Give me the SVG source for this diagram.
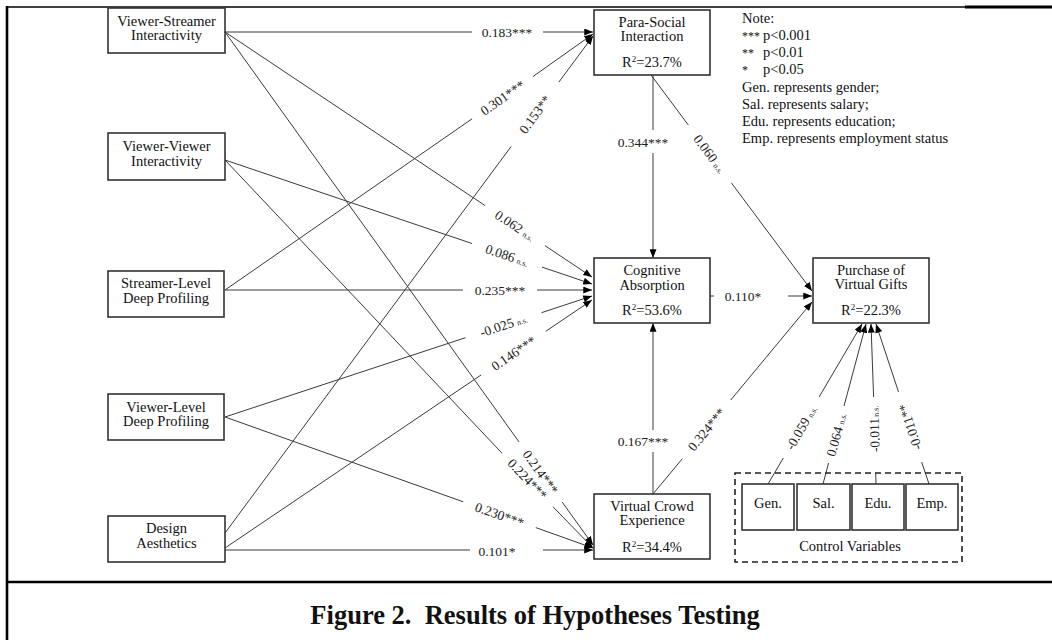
<svg xmlns="http://www.w3.org/2000/svg" width="1052" height="640" viewBox="0 0 1052 640">
<style>
text { font-family: "Liberation Serif", "Times New Roman", serif; fill: #111; }
.n { font-size: 14.5px; text-anchor: middle; }
.l { font-size: 13.5px; text-anchor: middle; fill: #222; }
.ns { font-size: 8px; }
.note { font-size: 14.5px; }
.ast { font-size: 12px; }
.box { fill: #fff; stroke: #333; stroke-width: 1.6; }
.c line { stroke: #3a3a3a; stroke-width: 1; }
.frame { stroke: #000; fill: none; }
</style>
<defs>
<marker id="ah" viewBox="0 0 10 8" refX="10" refY="4" markerWidth="9" markerHeight="7" markerUnits="userSpaceOnUse" orient="auto">
<path d="M0,0 L10,4 L0,8 z" fill="#000"/>
</marker>
</defs>
<rect width="1052" height="640" fill="#fff"/>
<!-- frame -->
<line class="frame" x1="7" y1="7" x2="965" y2="7" stroke-width="1.6"/>
<line class="frame" x1="965" y1="7" x2="1052" y2="7" stroke-width="3"/>
<line class="frame" x1="7" y1="6" x2="7" y2="640" stroke-width="2.6"/>
<line class="frame" x1="7" y1="582" x2="1052" y2="582" stroke-width="2.6"/>

<g id="connectors" class="c">
<!-- A VSI->PSI -->
<line x1="225" y1="32" x2="472" y2="32"/><line x1="543" y1="32" x2="593" y2="32" marker-end="url(#ah)"/>
<text class="l" x="507" y="32" dy="0.35em">0.183***</text>
<!-- B VSI->CA -->
<line x1="225" y1="32" x2="485.1" y2="205.6"/><line x1="544.9" y1="245.6" x2="592" y2="277" marker-end="url(#ah)"/>
<text class="l" transform="translate(515,225.6) rotate(33.7)" dy="0.35em">0.062<tspan class="ns" dx="3">n.s.</tspan></text>
<!-- C VSI->VCE -->
<line x1="225" y1="32" x2="519" y2="441.9"/><line x1="562.2" y1="502.1" x2="593" y2="545" marker-end="url(#ah)"/>
<text class="l" transform="translate(540.6,472) rotate(54.35)" dy="0.35em">0.214***</text>
<!-- D VVI->CA -->
<line x1="225" y1="160" x2="472" y2="243.5"/><line x1="542" y1="267.1" x2="592" y2="284" marker-end="url(#ah)"/>
<text class="l" transform="translate(507,255.3) rotate(18.67)" dy="0.35em">0.086<tspan class="ns" dx="3">n.s.</tspan></text>
<!-- E VVI->VCE -->
<line x1="225" y1="160" x2="502" y2="453.2"/><line x1="553" y1="506.8" x2="593" y2="548" marker-end="url(#ah)"/>
<text class="l" transform="translate(527.5,479) rotate(46.5)" dy="0.35em">0.224***</text>
<!-- F SLDP->PSI -->
<line x1="225" y1="290" x2="472.1" y2="118.8"/><line x1="532.9" y1="76.6" x2="593" y2="34" marker-end="url(#ah)"/>
<text class="l" transform="translate(502.5,97.7) rotate(-34.7)" dy="0.35em">0.301***</text>
<!-- G SLDP->CA -->
<line x1="225" y1="290" x2="463" y2="290"/><line x1="537" y1="290" x2="592" y2="290" marker-end="url(#ah)"/>
<text class="l" x="500" y="290" dy="0.35em">0.235***</text>
<!-- H VLDP->CA -->
<line x1="225" y1="417" x2="465.5" y2="337.7"/><line x1="541.5" y1="312.7" x2="592" y2="296" marker-end="url(#ah)"/>
<text class="l" transform="translate(503.5,325.2) rotate(-18.25)" dy="0.35em">-0.025<tspan class="ns" dx="3">n.s.</tspan></text>
<!-- I VLDP->VCE -->
<line x1="225" y1="417" x2="463.2" y2="501.8"/><line x1="535.8" y1="527.6" x2="593" y2="548" marker-end="url(#ah)"/>
<text class="l" transform="translate(499.5,514.7) rotate(19.6)" dy="0.35em">0.230***</text>
<!-- J DA->PSI -->
<line x1="225" y1="533" x2="511.2" y2="146.4"/><line x1="558.8" y1="82.2" x2="593" y2="36" marker-end="url(#ah)"/>
<text class="l" transform="translate(535,114.3) rotate(-53.5)" dy="0.35em">0.153**</text>
<!-- K DA->CA -->
<line x1="225" y1="548" x2="481.2" y2="374.9"/><line x1="545.8" y1="331.3" x2="592" y2="300" marker-end="url(#ah)"/>
<text class="l" transform="translate(513.5,353.1) rotate(-34.05)" dy="0.35em">0.146***</text>
<!-- L DA->VCE -->
<line x1="225" y1="550" x2="470" y2="550"/><line x1="543" y1="550" x2="593" y2="550" marker-end="url(#ah)"/>
<text class="l" x="497" y="551" dy="0.35em">0.101*</text>
<!-- M PSI->CA -->
<line x1="653" y1="75" x2="653" y2="130"/><line x1="653" y1="153" x2="653" y2="258" marker-end="url(#ah)"/>
<text class="l" x="643" y="142" dy="0.35em">0.344***</text>
<!-- N PSI->PVG -->
<line x1="651" y1="75" x2="688.4" y2="125.1"/><line x1="731.4" y1="182.9" x2="812" y2="291" marker-end="url(#ah)"/>
<text class="l" transform="translate(709.9,154) rotate(53.3)" dy="0.35em">0.060<tspan class="ns" dx="3">n.s.</tspan></text>
<!-- O CA->PVG -->
<line x1="710" y1="296" x2="714" y2="296"/><line x1="788" y1="296" x2="812" y2="296" marker-end="url(#ah)"/>
<text class="l" x="743" y="296" dy="0.35em">0.110*</text>
<!-- P VCE->CA -->
<line x1="653" y1="494" x2="653" y2="452"/><line x1="653" y1="430" x2="653" y2="323" marker-end="url(#ah)"/>
<text class="l" x="643" y="441" dy="0.35em">0.167***</text>
<!-- Q VCE->PVG -->
<line x1="653" y1="494" x2="682.3" y2="458.7"/><line x1="730.7" y1="400.1" x2="812" y2="302" marker-end="url(#ah)"/>
<text class="l" transform="translate(706.5,429.4) rotate(-50.4)" dy="0.35em">0.324***</text>
<!-- Controls -->
<line x1="768" y1="484" x2="783.3" y2="458"/><line x1="819.1" y1="397" x2="862" y2="324" marker-end="url(#ah)"/>
<text class="l" transform="translate(801.2,427.5) rotate(-59.6)" dy="0.35em">-0.059<tspan class="ns" dx="3">n.s.</tspan></text>
<line x1="823" y1="484" x2="828.6" y2="463"/><line x1="844" y1="406" x2="866" y2="324" marker-end="url(#ah)"/>
<text class="l" transform="translate(836.3,434.5) rotate(-75)" dy="0.35em">0.064<tspan class="ns" dx="3">n.s.</tspan></text>
<line x1="876" y1="484" x2="875.7" y2="473"/><line x1="873.6" y1="397" x2="871" y2="324" marker-end="url(#ah)"/>
<text class="l" transform="translate(874.3,429) rotate(-91.8)" dy="0.35em">-0.011<tspan class="ns" dx="1">n.s.</tspan></text>
<line x1="929" y1="484" x2="921.7" y2="462.1"/><line x1="898.5" y1="391.9" x2="876" y2="324" marker-end="url(#ah)"/>
<text class="l" transform="translate(910.1,427) rotate(-108.3)" dy="0.35em">-0.011**</text>
</g>

<g id="node-vsi">
<rect class="box" x="108" y="8" width="117" height="45"/>
<text class="n" x="166.5" y="26">Viewer-Streamer</text>
<text class="n" x="166.5" y="40">Interactivity</text>
</g>
<g id="node-vvi">
<rect class="box" x="108" y="133" width="117" height="47"/>
<text class="n" x="166.5" y="151">Viewer-Viewer</text>
<text class="n" x="166.5" y="166">Interactivity</text>
</g>
<g id="node-sldp">
<rect class="box" x="108" y="271" width="116" height="46"/>
<text class="n" x="166" y="288">Streamer-Level</text>
<text class="n" x="166" y="303">Deep Profiling</text>
</g>
<g id="node-vldp">
<rect class="box" x="108" y="394" width="116" height="46"/>
<text class="n" x="166" y="412">Viewer-Level</text>
<text class="n" x="166" y="426">Deep Profiling</text>
</g>
<g id="node-da">
<rect class="box" x="108" y="516" width="117" height="46"/>
<text class="n" x="166.5" y="533">Design</text>
<text class="n" x="166.5" y="548">Aesthetics</text>
</g>
<g id="node-psi">
<rect class="box" x="594" y="10" width="116" height="65"/>
<text class="n" x="652" y="27">Para-Social</text>
<text class="n" x="652" y="41">Interaction</text>
<text class="n" x="652" y="67">R<tspan dy="-5" font-size="9">2</tspan><tspan dy="5">=23.7%</tspan></text>
</g>
<g id="node-ca">
<rect class="box" x="594" y="258" width="116" height="65"/>
<text class="n" x="652" y="275">Cognitive</text>
<text class="n" x="652" y="290">Absorption</text>
<text class="n" x="652" y="315">R<tspan dy="-5" font-size="9">2</tspan><tspan dy="5">=53.6%</tspan></text>
</g>
<g id="node-vce">
<rect class="box" x="594" y="494" width="116" height="65"/>
<text class="n" x="652" y="511">Virtual Crowd</text>
<text class="n" x="652" y="525">Experience</text>
<text class="n" x="652" y="552">R<tspan dy="-5" font-size="9">2</tspan><tspan dy="5">=34.4%</tspan></text>
</g>
<g id="node-pvg">
<rect class="box" x="813" y="258" width="116" height="65"/>
<text class="n" x="871" y="275">Purchase of</text>
<text class="n" x="871" y="289">Virtual Gifts</text>
<text class="n" x="871" y="315">R<tspan dy="-5" font-size="9">2</tspan><tspan dy="5">=22.3%</tspan></text>
</g>
<g id="node-controls">
<rect x="735" y="473" width="227" height="89" fill="none" stroke="#222" stroke-width="1.6" stroke-dasharray="6 4"/>
<text class="n" x="850" y="551">Control Variables</text>
</g>
<g id="node-gen">
<rect class="box" x="742" y="484" width="52" height="46"/>
<text class="n" x="768" y="508">Gen.</text>
</g>
<g id="node-sal">
<rect class="box" x="797" y="484" width="53" height="46"/>
<text class="n" x="823.5" y="508">Sal.</text>
</g>
<g id="node-edu">
<rect class="box" x="852" y="484" width="52" height="46"/>
<text class="n" x="878" y="508">Edu.</text>
</g>
<g id="node-emp">
<rect class="box" x="906" y="484" width="52" height="46"/>
<text class="n" x="932" y="508">Emp.</text>
</g>

<g id="note">
<text class="note" x="742" y="23">Note:</text>
<text class="note ast" x="742" y="40">***</text><text class="note" x="763" y="40">p&lt;0.001</text>
<text class="note ast" x="742" y="57">**</text><text class="note" x="763" y="57">p&lt;0.01</text>
<text class="note ast" x="742" y="74">*</text><text class="note" x="763" y="74">p&lt;0.05</text>
<text class="note" x="742" y="92">Gen. represents gender;</text>
<text class="note" x="742" y="109">Sal. represents salary;</text>
<text class="note" x="742" y="126">Edu. represents education;</text>
<text class="note" x="742" y="143">Emp. represents employment status</text>
</g>

<text x="535" y="624" text-anchor="middle" font-weight="bold" font-size="26.5" xml:space="preserve">Figure 2.  Results of Hypotheses Testing</text>
</svg>
